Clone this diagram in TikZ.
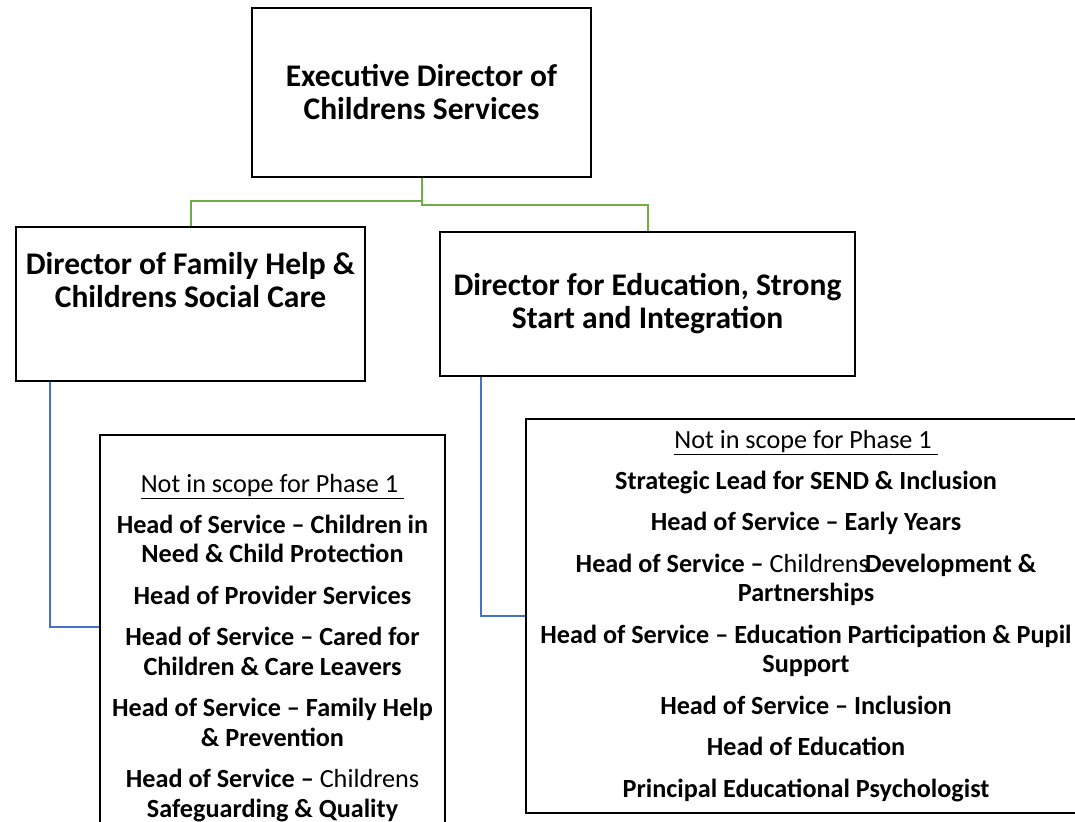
\documentclass[tikz,border=0pt]{standalone}
\usepackage{fontspec}
\setmainfont{Carlito}
\definecolor{linkgreen}{HTML}{70AD47}
\definecolor{linkblue}{HTML}{4472C4}

\begin{document}
\begin{tikzpicture}[x=1pt, y=-1pt,
  box/.style={rectangle, draw=black, line width=2pt, align=center, inner sep=0pt},
  headbox/.style={box, font=\fontsize{31.5}{33}\selectfont\bfseries},
  listbox/.style={box, font=\fontsize{26.2}{29.5}\selectfont\bfseries},
  greenlink/.style={draw=linkgreen, line width=2pt},
  bluelink/.style={draw=linkblue, line width=1.8pt}
]
\useasboundingbox (0,0) rectangle (1075,821);
\clip (0,0) rectangle (1075,821);

\node[headbox, minimum width=339pt, minimum height=169pt] (exec) at (421.5,92.5)
  {Executive Director of\\Childrens Services};
\node[headbox, minimum width=349pt, minimum height=154pt, text depth=48pt] (famdir) at (190.5,304)
  {Director of Family Help \&\\Childrens Social Care};
\node[headbox, minimum width=415pt, minimum height=144pt] (edudir) at (647.5,304)
  {Director for Education, Strong\\Start and Integration};

\node[listbox, minimum width=345pt, minimum height=426pt] (famlist) at (272.5,648)
  {{\mdseries\underline{Not in scope for Phase 1~}}\\[11pt]
   Head of Service – Children in\\Need \& Child Protection\\[12pt]
   Head of Provider Services\\[12pt]
   Head of Service – Cared for\\Children \& Care Leavers\\[12pt]
   Head of Service – Family Help\\\& Prevention\\[12pt]
   Head of Service – {\mdseries Childrens}\\Safeguarding \& Quality};
\node[listbox, minimum width=560pt, minimum height=394pt] (edulist) at (806,616)
  {{\mdseries\underline{Not in scope for Phase 1~}}\\[11pt]
   Strategic Lead for SEND \& Inclusion\\[12pt]
   Head of Service – Early Years\\[12pt]
   Head of Service – {\mdseries Childrens}\hspace{-4pt}Development \&\\Partnerships\\[12pt]
   Head of Service – Education Participation \& Pupil\\Support\\[12pt]
   Head of Service – Inclusion\\[12pt]
   Head of Education\\[12pt]
   Principal Educational Psychologist};

% green links from the top
\coordinate (split) at (421.5,201);
\draw[greenlink] (exec.south) -- (split) -| (famdir.north);
\draw[greenlink] (split) -- ++(0,4) -| (edudir.north);

% blue links to the lists
\draw[bluelink] ([xshift=35pt]famdir.south west) |- ([yshift=-193pt]famlist.north west);
\draw[bluelink] ([xshift=42pt]edudir.south west) |- (edulist.west);

\end{tikzpicture}
\end{document}
